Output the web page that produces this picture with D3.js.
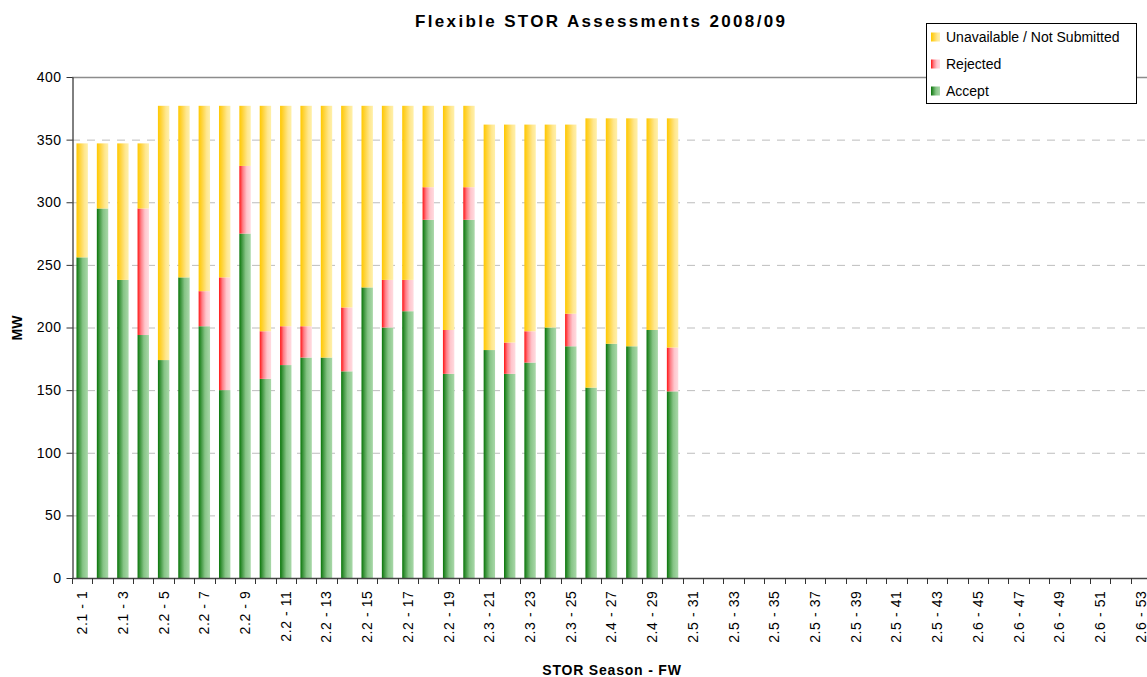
<!DOCTYPE html>
<html lang="en">
<head>
<meta charset="UTF-8">
<title>Flexible STOR Assessments 2008/09</title>
<script src="https://cdn.jsdelivr.net/npm/d3@7"></script>
<style>
    body { margin: 0; background: #fff; }
    svg { display: block; font-family: "Liberation Sans", Arial, sans-serif; }
</style>
</head>
<body>
<div id="chart"></div>
<script>
    // season of each flexible week (FW 1..53)
    const seasons = ["2.1","2.1","2.1","2.1",
        "2.2","2.2","2.2","2.2","2.2","2.2","2.2","2.2","2.2","2.2","2.2","2.2","2.2","2.2","2.2","2.2",
        "2.3","2.3","2.3","2.3","2.3",
        "2.4","2.4","2.4","2.4","2.4",
        "2.5","2.5","2.5","2.5","2.5","2.5","2.5","2.5","2.5","2.5","2.5","2.5","2.5","2.5",
        "2.6","2.6","2.6","2.6","2.6","2.6","2.6","2.6","2.6"];
    const categories = seasons.map((s, i) => `${s} - ${i + 1}`);

    // MW values, weeks 1..30 (later weeks have no data)
    const accept = [256, 295, 238, 194, 174, 240, 201, 150, 275, 159,
                    170, 176, 176, 165, 232, 200, 213, 286, 163, 286,
                    182, 163, 172, 200, 185, 152, 187, 185, 198, 149];
    const rejected = [0, 0, 0, 101, 0, 0, 28, 90, 54, 38,
                      31, 25, 0, 51, 0, 38, 25, 26, 35, 26,
                      0, 25, 25, 0, 26, 0, 0, 0, 0, 35];
    const unavailable = [91, 52, 109, 52, 203, 137, 148, 137, 48, 180,
                         176, 176, 201, 161, 145, 139, 139, 65, 179, 65,
                         180, 174, 165, 162, 151, 215, 180, 182, 169, 183];

    const yTicks = [0, 50, 100, 150, 200, 250, 300, 350, 400];

    const seriesNames = ["Accept", "Rejected", "Unavailable / Not Submitted"];

    const W = 1147, H = 677;
    const plotLeft = 72, plotRight = 1151, plotTop = 77, plotBottom = 578;

    const rows = accept.map((a, i) => ({
        cat: categories[i],
        "Accept": a,
        "Rejected": rejected[i],
        "Unavailable / Not Submitted": unavailable[i]
    }));

    const svg = d3.select("#chart").append("svg")
        .attr("width", W)
        .attr("height", H);

    // gradients for the bar fills
    const defs = svg.append("defs");
    const gradients = {
        "Accept": [[0, "#087508"], [0.2, "#3a933a"], [0.55, "#86c486"], [1, "#a9d8a9"]],
        "Rejected": [[0, "#ff1414"], [0.3, "#ff7d86"], [0.65, "#ffc6cd"], [1, "#ffdbe0"]],
        "Unavailable / Not Submitted": [[0, "#ffc800"], [0.3, "#ffd43c"], [0.7, "#ffe78f"], [1, "#fff0aa"]]
    };
    const gradId = {};
    seriesNames.forEach((name, k) => {
        gradId[name] = "grad" + k;
        const g = defs.append("linearGradient")
            .attr("id", "grad" + k)
            .attr("x1", 0).attr("x2", 1).attr("y1", 0).attr("y2", 0);
        gradients[name].forEach(s => g.append("stop").attr("offset", s[0]).attr("stop-color", s[1]));
    });

    const x = d3.scaleBand()
        .domain(categories)
        .range([plotLeft, plotRight])
        .paddingInner(0.44)
        .paddingOuter(0.22);

    const y = d3.scaleLinear()
        .domain([0, 400])
        .range([plotBottom, plotTop]);

    // gridlines
    svg.append("g")
        .selectAll("line")
        .data(yTicks.filter(t => t > 0))
        .join("line")
        .attr("x1", plotLeft)
        .attr("x2", W)
        .attr("y1", d => y(d) + 0.5)
        .attr("y2", d => y(d) + 0.5)
        .attr("stroke", d => d === 400 ? "#8c8c8c" : "#bdbdbd")
        .attr("stroke-width", d => d === 400 ? 1.5 : 1)
        .attr("stroke-dasharray", d => d === 400 ? null : "8,7");

    // stacked bars
    const stack = d3.stack().keys(seriesNames);
    const layers = stack(rows);

    svg.append("g")
        .selectAll("g")
        .data(layers)
        .join("g")
        .attr("fill", d => `url(#${gradId[d.key]})`)
        .selectAll("rect")
        .data(d => d.filter(p => p[1] > p[0]))
        .join("rect")
        .attr("x", d => x(d.data.cat))
        .attr("width", x.bandwidth())
        .attr("y", d => y(d[1]))
        .attr("height", d => y(d[0]) - y(d[1]));

    // y axis
    const yAxis = svg.append("g")
        .attr("transform", `translate(${plotLeft + 0.5},0)`)
        .call(d3.axisLeft(y).tickValues(yTicks).tickSize(6).tickSizeOuter(0).tickPadding(5));
    yAxis.select(".domain").attr("stroke", "#000");
    yAxis.selectAll(".tick line").attr("stroke", "#333");
    yAxis.selectAll("text")
        .attr("font-size", 14)
        .attr("letter-spacing", "0.5px")
        .attr("font-family", "'Liberation Sans', Arial, sans-serif")
        .attr("fill", "#000");

    // x axis: labels on every other week, ticks on week boundaries
    const xAxis = svg.append("g")
        .attr("transform", `translate(0,${plotBottom + 0.5})`)
        .call(d3.axisBottom(x)
            .tickSize(0)
            .tickFormat((d, i) => i % 2 === 0 ? d : ""));
    xAxis.select(".domain").remove();
    xAxis.selectAll("text")
        .attr("transform", "rotate(-90)")
        .attr("x", -12)
        .attr("y", 0)
        .attr("dy", "0.35em")
        .attr("text-anchor", "end")
        .attr("font-size", 14)
        .attr("letter-spacing", "0.6px")
        .attr("font-family", "'Liberation Sans', Arial, sans-serif")
        .attr("fill", "#000");

    const tickX = d3.range(categories.length + 1).map(i => plotLeft + i * (plotRight - plotLeft) / categories.length);

    svg.append("line")
        .attr("x1", plotLeft).attr("x2", W)
        .attr("y1", plotBottom + 0.5).attr("y2", plotBottom + 0.5)
        .attr("stroke", "#444").attr("stroke-width", 1.5);

    svg.append("g")
        .selectAll("line")
        .data(tickX)
        .join("line")
        .attr("x1", d => Math.round(d) + 0.5)
        .attr("x2", d => Math.round(d) + 0.5)
        .attr("y1", plotBottom)
        .attr("y2", plotBottom + 6)
        .attr("stroke", "#333");

    // titles
    svg.append("text")
        .attr("x", 600)
        .attr("y", 27)
        .attr("text-anchor", "middle")
        .attr("font-size", 17)
        .attr("font-weight", "bold")
        .attr("textLength", 370)
        .attr("lengthAdjust", "spacing")
        .text("Flexible STOR Assessments 2008/09");

    svg.append("text")
        .attr("x", 612)
        .attr("y", 675)
        .attr("text-anchor", "middle")
        .attr("font-size", 14)
        .attr("font-weight", "bold")
        .attr("letter-spacing", "0.8px")
        .text("STOR Season - FW");

    svg.append("text")
        .attr("transform", "translate(22,328) rotate(-90)")
        .attr("text-anchor", "middle")
        .attr("font-size", 14)
        .attr("font-weight", "bold")
        .text("MW");

    // legend
    const legend = svg.append("g");
    legend.append("rect")
        .attr("x", 926.5).attr("y", 23.5)
        .attr("width", 210).attr("height", 80)
        .attr("fill", "#fff")
        .attr("stroke", "#000");

    const legendItems = ["Unavailable / Not Submitted", "Rejected", "Accept"];
    const li = legend.selectAll("g")
        .data(legendItems)
        .join("g")
        .attr("transform", (d, i) => `translate(931,${37 + i * 27})`);
    li.append("rect")
        .attr("x", 0).attr("y", -4.5)
        .attr("width", 9).attr("height", 9)
        .attr("fill", d => `url(#${gradId[d]})`);
    li.append("text")
        .attr("x", 15)
        .attr("dy", "0.35em")
        .attr("font-size", 14)
        .text(d => d);
</script>
</body>
</html>
